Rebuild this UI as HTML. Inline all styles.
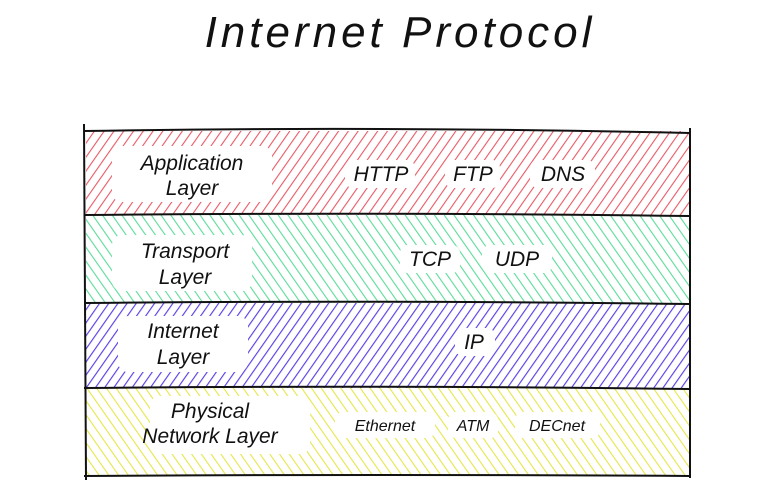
<!DOCTYPE html>
<html><head><meta charset="utf-8"><style>
body{margin:0;background:#fff;width:780px;height:499px;overflow:hidden}
svg text{font-family:"Liberation Sans",sans-serif;font-style:italic;fill:#111}
</style></head><body>
<svg width="780" height="499" viewBox="0 0 780 499" xmlns="http://www.w3.org/2000/svg">
<defs>
<pattern id="r" width="8" height="8" patternUnits="userSpaceOnUse" patternTransform="rotate(35)"><line x1="0" y1="0" x2="0" y2="8" stroke="#e85a66" stroke-width="2.2"/></pattern>
<pattern id="g" width="8" height="8" patternUnits="userSpaceOnUse" patternTransform="rotate(-35)"><line x1="0" y1="0" x2="0" y2="8" stroke="#5cdc98" stroke-width="2.2"/></pattern>
<pattern id="p" width="7.5" height="7.5" patternUnits="userSpaceOnUse" patternTransform="rotate(35)"><line x1="0" y1="0" x2="0" y2="7.5" stroke="#5a40e6" stroke-width="2.3"/></pattern>
<pattern id="y" width="8" height="8" patternUnits="userSpaceOnUse" patternTransform="rotate(-35)"><line x1="0" y1="0" x2="0" y2="8" stroke="#e6e64a" stroke-width="2.2"/></pattern>
</defs>
<text x="400" y="47" text-anchor="middle" font-size="44" style="letter-spacing:4px">Internet Protocol</text>
<rect x="86" y="131" width="604" height="84" fill="url(#r)"/>
<rect x="86" y="215" width="604" height="88" fill="url(#g)"/>
<rect x="86" y="303" width="604" height="85" fill="url(#p)"/>
<rect x="86" y="388" width="604" height="88" fill="url(#y)"/>
<g fill="#fff">
<rect x="112" y="146" width="160" height="56" rx="10"/>
<rect x="112" y="235" width="140" height="56" rx="10"/>
<rect x="118" y="316" width="130" height="56" rx="10"/>
<rect x="150" y="396" width="160" height="58" rx="10"/>
<rect x="345" y="160" width="70" height="28" rx="8"/>
<rect x="445" y="160" width="55" height="28" rx="8"/>
<rect x="530" y="160" width="65" height="28" rx="8"/>
<rect x="400" y="245" width="60" height="28" rx="8"/>
<rect x="482" y="245" width="70" height="28" rx="8"/>
<rect x="455" y="328" width="40" height="28" rx="8"/>
<rect x="335" y="412" width="100" height="26" rx="8"/>
<rect x="448" y="412" width="50" height="26" rx="8"/>
<rect x="515" y="412" width="85" height="26" rx="8"/>
</g>
<g stroke="#111" stroke-width="2" fill="none">
<line x1="84" y1="124" x2="86" y2="480"/>
<line x1="690" y1="128" x2="690" y2="478"/>
<path d="M84 131 Q380 126 690 133"/>
<path d="M84 215 Q380 212 690 216"/>
<path d="M84 303 Q380 300 690 304"/>
<path d="M84 388 Q380 385 690 389"/>
<path d="M84 476 Q380 474 690 476"/>
</g>
<g font-size="21" text-anchor="middle">
<text x="192" y="170">Application</text><text x="192" y="195">Layer</text>
<text x="185" y="258">Transport</text><text x="185" y="284">Layer</text>
<text x="183" y="338">Internet</text><text x="183" y="364">Layer</text>
<text x="210" y="418">Physical</text><text x="210" y="443">Network Layer</text>
<text x="381" y="181">HTTP</text><text x="473" y="181">FTP</text><text x="563" y="181">DNS</text>
<text x="430" y="266">TCP</text><text x="517" y="266">UDP</text>
<text x="474" y="349">IP</text>
</g>
<g font-size="16" text-anchor="middle">
<text x="385" y="431">Ethernet</text><text x="473" y="431">ATM</text><text x="557" y="431">DECnet</text>
</g>
</svg>
</body></html>
